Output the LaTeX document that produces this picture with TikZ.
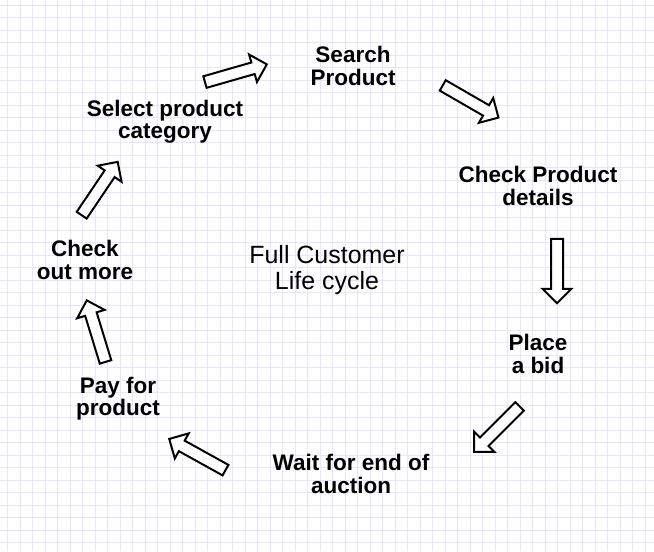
\documentclass[tikz,border=0pt]{standalone}
\usepackage{fontspec}
\setmainfont{Liberation Sans}
\usetikzlibrary{shapes.arrows}

\definecolor{gridline}{RGB}{230,228,255}

\tikzset{
  StepStyle/.style = { align = center, inner sep = 0pt,
                       font = \fontsize{19.2}{19}\selectfont\bfseries },
  TitleStyle/.style = { align = center, inner sep = 0pt,
                        font = \fontsize{21.3}{22}\selectfont },
  ArrowStyle/.style = { single arrow, draw = black, fill = white,
                        line width = 1.7pt, inner sep = 0pt,
                        minimum height = 1.93cm, text height = 0.3cm,
                        text width = 0pt, text depth = 0pt,
                        single arrow head extend = 0.25cm },
  GridStyle/.style = { gridline, line width = 0.8pt } }

\begin{document}
\begin{tikzpicture}[x=0.03cm, y=-0.03cm]
  \useasboundingbox (0,0) rectangle (654,551);
  \fill[white] (0,0) rectangle (654,551);
  \foreach \gx in {0,...,52} \draw[GridStyle] (7.5+12.5*\gx,0) -- (7.5+12.5*\gx,551);
  \foreach \gy in {0,...,44} \draw[GridStyle] (0,5+12.5*\gy) -- (654,5+12.5*\gy);

  \node[StepStyle](search) at (353,66) {Search\\Product};
  \node[StepStyle](details) at (538,186) {Check Product\\details};
  \node[StepStyle](bid) at (538,354) {Place\\a bid};
  \node[StepStyle](wait) at (351,474) {Wait for end of\\auction};
  \node[StepStyle](pay) at (118,399) {Pay for\\product};
  \node[StepStyle](more) at (85,260) {Check\\out more};
  \node[StepStyle](category) at (165,122) {Select product\\category};
  \node[TitleStyle](title) at (327,270) {Full Customer\\Life cycle};

  %arrows between the steps
  \node[ArrowStyle, rotate=16](catsearch) at (233,74) {};
  \node[ArrowStyle, rotate=-30](searchdetails) at (468,100) {};
  \node[ArrowStyle, rotate=-90](detailsbid) at (557,268) {};
  \node[ArrowStyle, rotate=-135](bidwait) at (499,427) {};
  \node[ArrowStyle, rotate=151](waitpay) at (200,456) {};
  \node[ArrowStyle, rotate=107](paymore) at (97,334) {};
  \node[ArrowStyle, rotate=56](morecat) at (98,191) {};
\end{tikzpicture}
\end{document}
